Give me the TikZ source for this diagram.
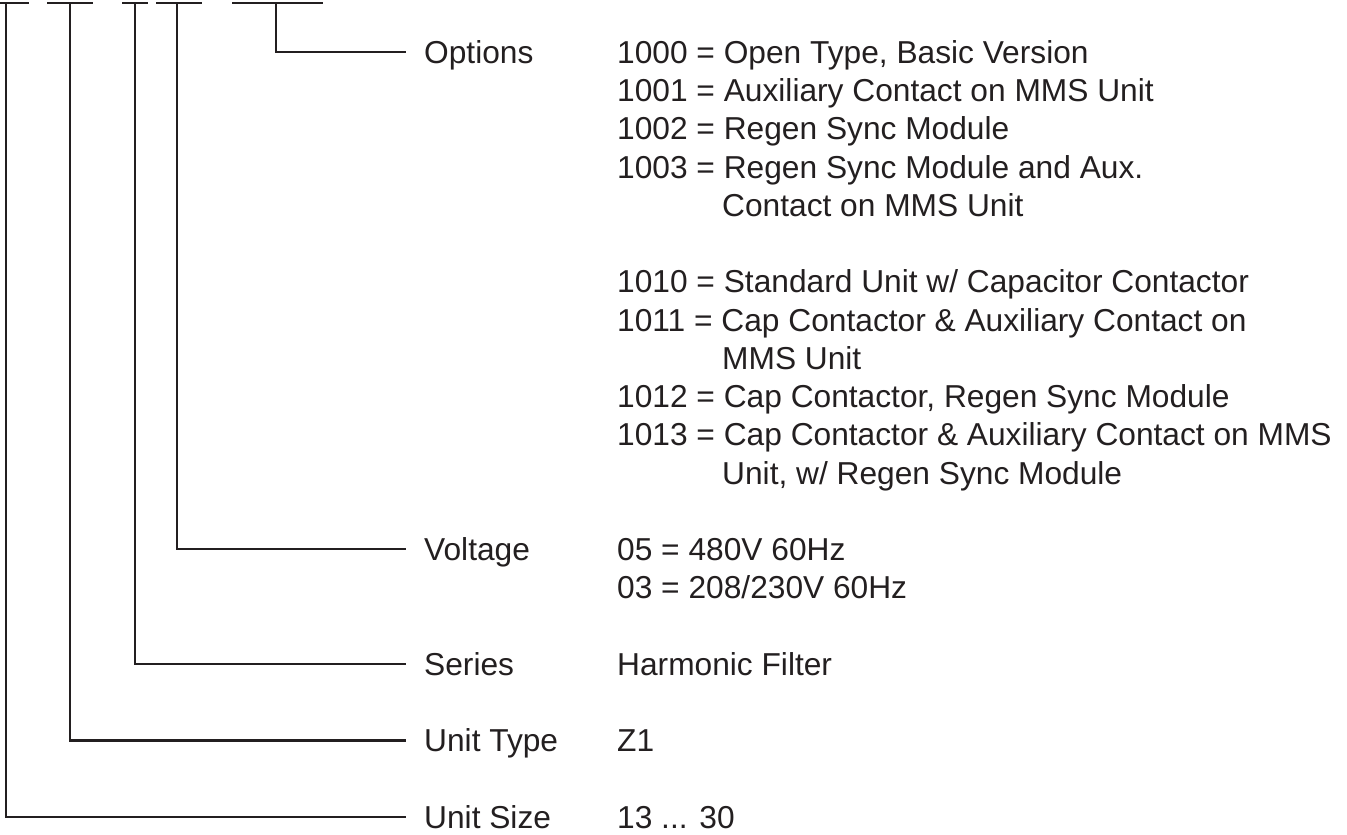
\documentclass[tikz,border=0pt]{standalone}
\usepackage{fontspec}
\setmainfont{Liberation Sans}
\definecolor{ink}{HTML}{231F20}
\begin{document}
\begin{tikzpicture}[x=1bp,y=-1bp,
  ln/.style={draw=ink,line width=2.2bp},
  txt/.style={anchor=west,inner sep=0pt,text height=22.7bp,text depth=0pt,
              text=ink,font=\fontsize{31.7bp}{38bp}\selectfont}]
\useasboundingbox (0,0) rectangle (1347,834);
% code placeholder bars
\draw[ln] (0,3) -- (29,3);
\draw[ln] (47,3) -- (93,3);
\draw[ln] (122,3) -- (148,3);
\draw[ln] (156,3) -- (202,3);
\draw[ln] (232,3) -- (323,3);
\coordinate (cSize) at (6,3);
\coordinate (cType) at (70,3);
\coordinate (cSer) at (135,3);
\coordinate (cVolt) at (177,3);
\coordinate (cOpt) at (276,3);
% labels
\node[txt] (lOpt)  at (424,52)     {Options};
\node[txt] (lVolt) at (424,549.25) {Voltage};
\node[txt] (lSer)  at (424,664)    {Series};
\node[txt] (lType) at (424,740.5)  {Unit Type};
\node[txt] (lSize) at (424,817)    {Unit Size};
% values
\node[txt] (o0) at (617,52)     {1000 = Open Type, Basic Version};
\node[txt] (o1) at (617,90.25)  {1001 = Auxiliary Contact on MMS Unit};
\node[txt] (o2) at (617,128.5)  {1002 = Regen Sync Module};
\node[txt] (o3) at (617,166.75) {1003 = Regen Sync Module and Aux.};
\node[txt] (o3b) at (722,205)   {Contact on MMS Unit};
\node[txt] (o4) at (617,281.5)  {1010 = Standard Unit w/ Capacitor Contactor};
\node[txt] (o5) at (617,319.75) {1011 = Cap Contactor \& Auxiliary Contact on};
\node[txt] (o5b) at (722,358)   {MMS Unit};
\node[txt] (o6) at (617,396.25) {1012 = Cap Contactor, Regen Sync Module};
\node[txt] (o7) at (617,434.5)  {1013 = Cap Contactor \& Auxiliary Contact on MMS};
\node[txt] (o7b) at (722,472.75) {Unit, w/ Regen Sync Module};
\node[txt] (v0) at (617,549.25) {05 = 480V 60Hz};
\node[txt] (v1) at (617,587.5)  {03 = 208/230V 60Hz};
\node[txt] (s0) at (617,664)    {Harmonic Filter};
\node[txt] (t0) at (617,740.5)  {Z1};
\node[txt] (z0) at (617,817)    {13 ... 30};
% connectors
\draw[ln] (cOpt)  |- ([xshift=-18bp]lOpt.west);
\draw[ln] (cVolt) |- ([xshift=-18bp]lVolt.west);
\draw[ln] (cSer)  |- ([xshift=-18bp]lSer.west);
\draw[ln] (cType) |- ([xshift=-18bp]lType.west);
\draw[ln] (cSize) |- ([xshift=-18bp]lSize.west);
\end{tikzpicture}
\end{document}
